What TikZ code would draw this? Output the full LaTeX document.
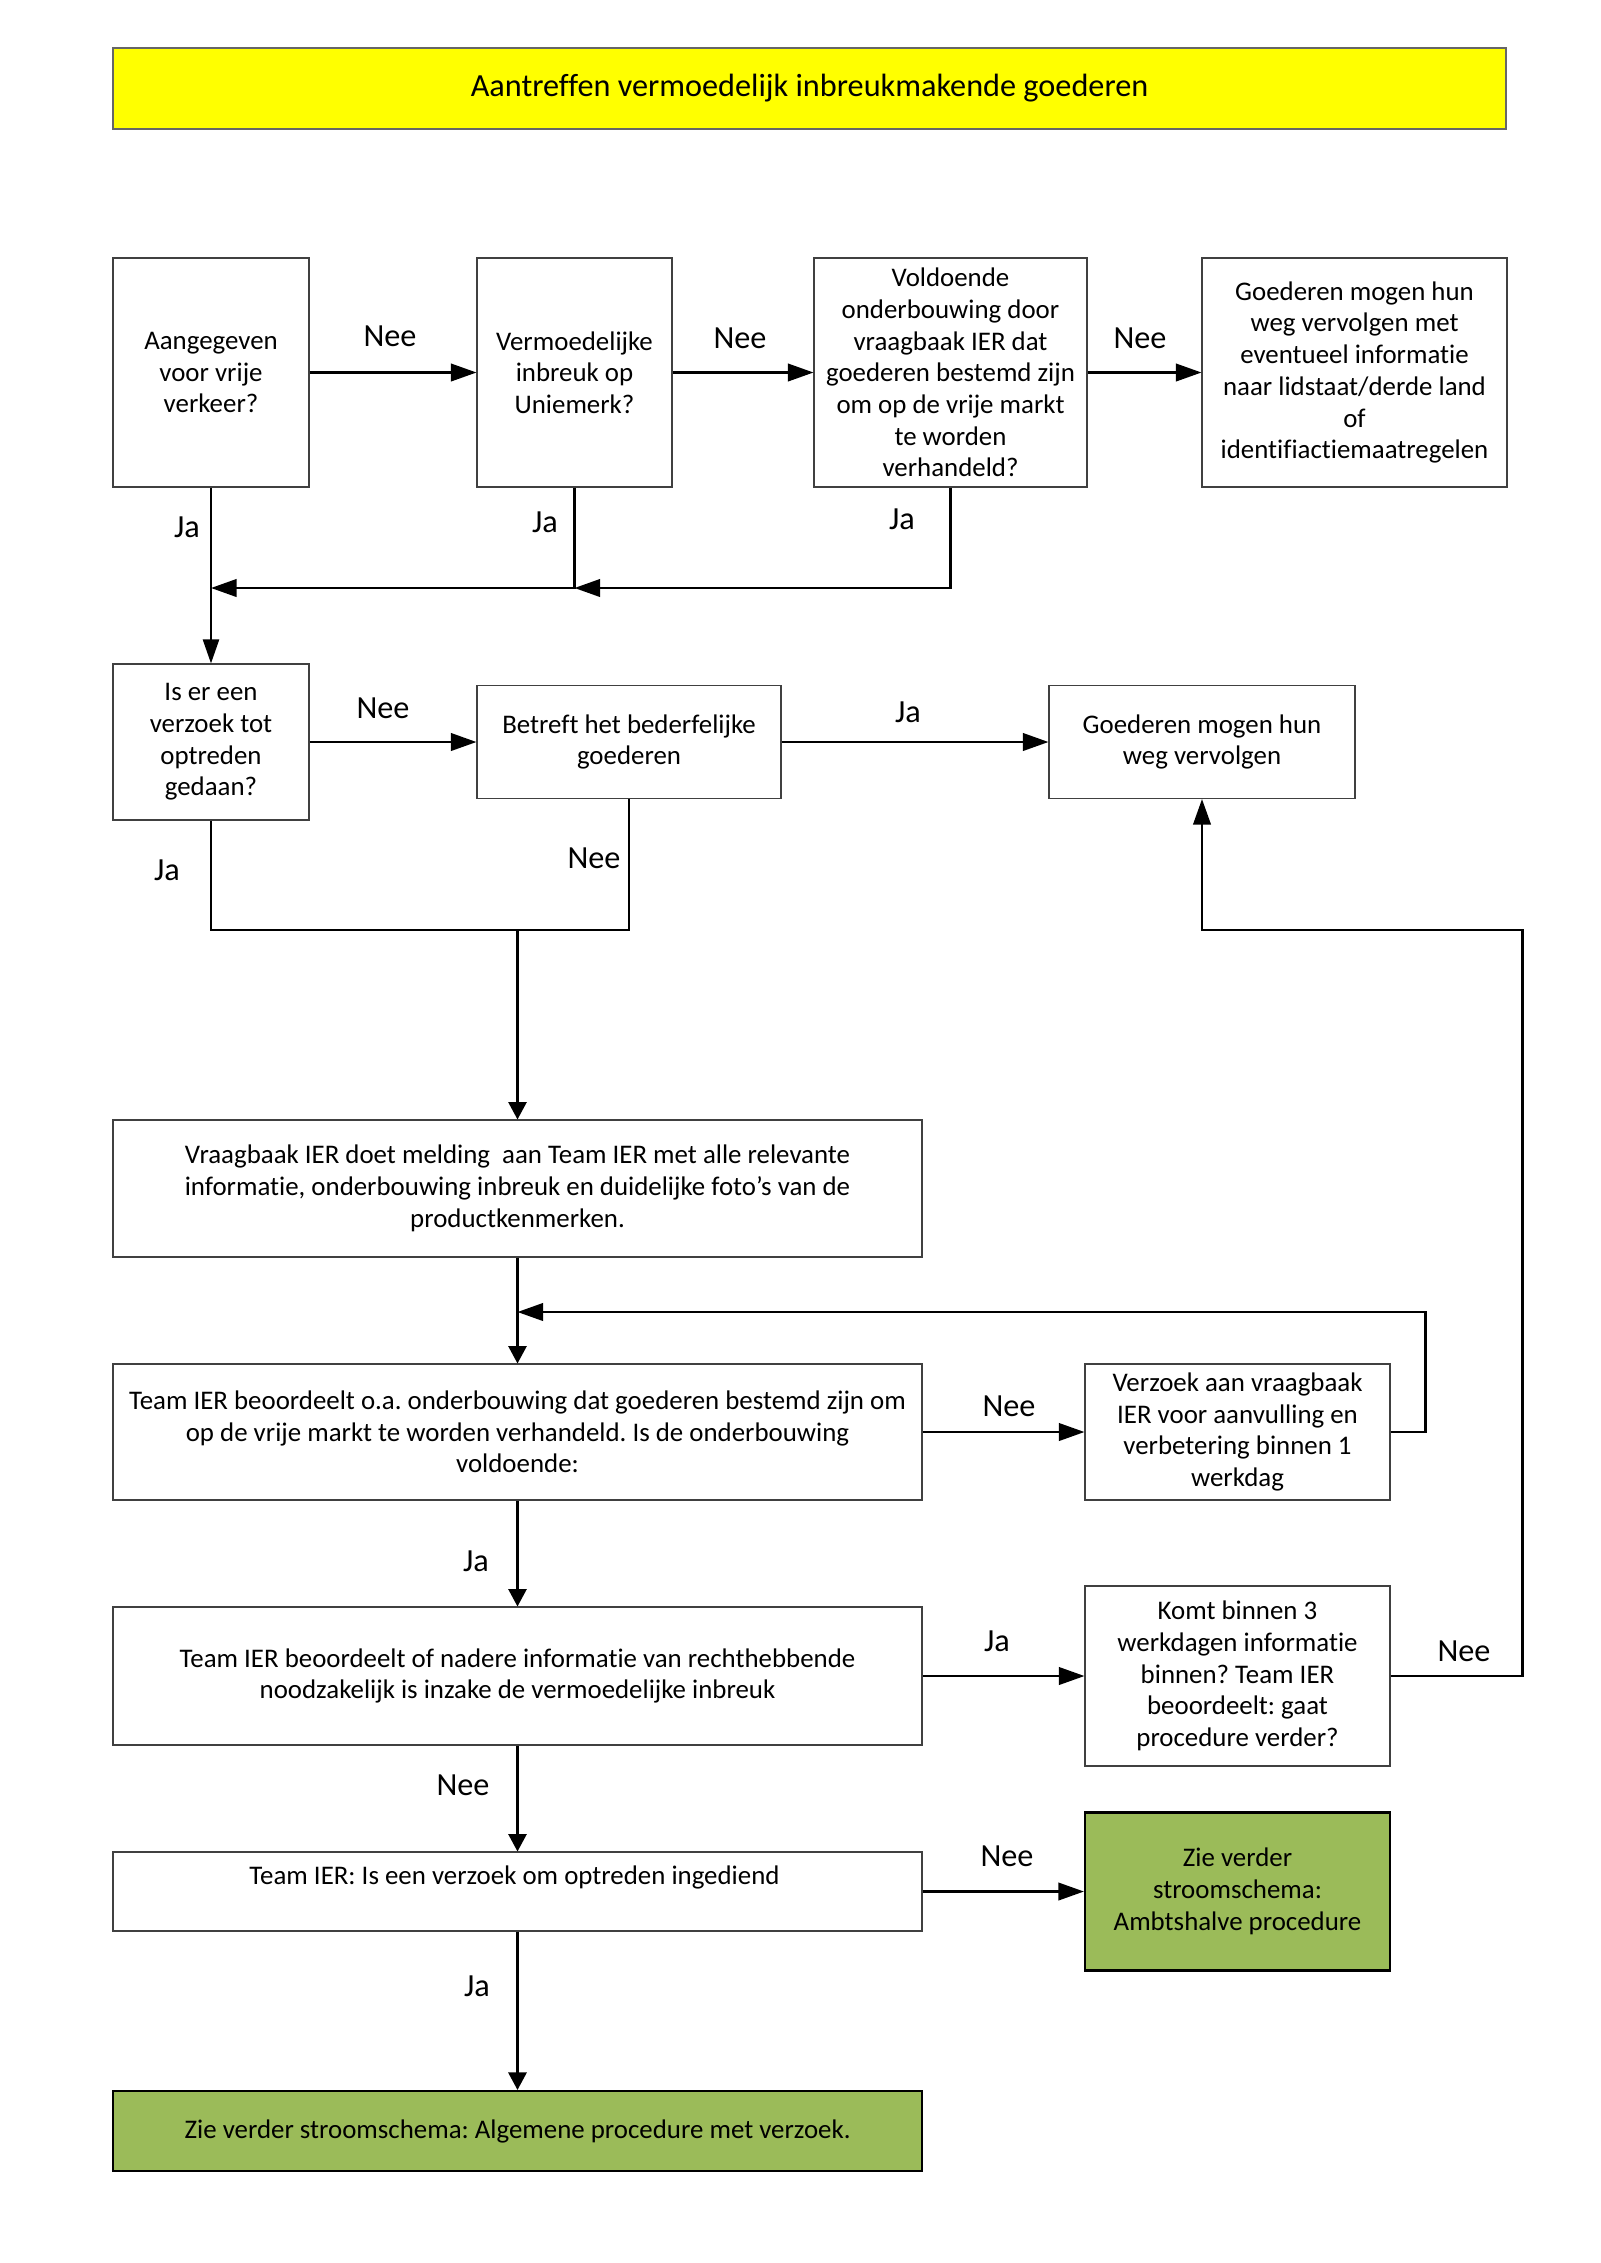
\documentclass[tikz,border=0pt]{standalone}
\usepackage{fontspec}
\setmainfont{Carlito}[RawFeature=-liga]
\usetikzlibrary{arrows.meta}
\frenchspacing

\newlength\px
\setlength\px{0.3721pt}
\newcommand\boxfont{\fontsize{10}{11.8}\selectfont}
\newcommand\lblfont{\fontsize{12}{13.5}\selectfont}
\definecolor{groen}{HTML}{9BBB59}
\definecolor{geel}{HTML}{FFFF00}

\tikzset{
  box/.style={draw=black!75, line width=0.4pt, fill=white, align=center, inner sep=2pt, font=\boxfont},
  eindbox/.style={box, draw=black, line width=0.8pt, fill=groen},
  conn/.style={line width=0.9pt},
  bigarrow/.style={conn, -{Triangle[length=9.5pt,width=6.5pt]}},
  smallarrow/.style={line width=0.75pt, -{Triangle[length=6.5pt,width=6.8pt]}},
  lbl/.style={font=\lblfont, inner sep=0pt},
}

\begin{document}
\begin{tikzpicture}[x=0.3721pt, y=-0.3721pt]
		\useasboundingbox (0,0) rectangle (1600,2263);

			% Title bar
			\node[box, font=\lblfont, draw=black!60, fill=geel, minimum width=1393\px, minimum height=81\px] (titel) at (809.5,88.5) {Aantreffen vermoedelijk inbreukmakende goederen};

			% Plain boxes: name/centre x/centre y/width/height/text
			\foreach \name/\cx/\cy/\w/\h/\txt in {
					aangegeven/211/372.5/196/229/{Aangegeven\\voor vrije\\verkeer?},
					uniemerk/574.5/372.5/195/229/{Vermoedelijke\\inbreuk op\\Uniemerk?},
					voldoende/950.5/372.5/273/229/{Voldoende\\onderbouwing door\\vraagbaak IER dat\\goederen bestemd zijn\\om op de vrije markt\\te worden\\verhandeld?},
					vervolgmet/1354.5/372.5/305/229/{Goederen mogen hun\\weg vervolgen met\\eventueel informatie\\naar lidstaat/derde land\\of\\identifiactiemaatregelen},
					verzoek/211/742/196/156/{Is er een\\verzoek tot\\optreden\\gedaan?},
					bederf/629/742/304/113/{Betreft het bederfelijke\\goederen},
					vervolg/1202/742/306/113/{Goederen mogen hun\\weg vervolgen},
					melding/517.5/1188.5/809/137/{Vraagbaak IER doet melding\ \ aan Team IER met alle relevante\\informatie, onderbouwing inbreuk en duidelijke foto’s van de\\productkenmerken.},
					beoordeelt/517.5/1432/809/136/{Team IER beoordeelt o.a. onderbouwing dat goederen bestemd zijn om\\op de vrije markt te worden verhandeld. Is de onderbouwing\\voldoende:},
					aanvulling/1237.5/1432/305/136/{Verzoek aan vraagbaak\\IER voor aanvulling en\\verbetering binnen 1\\werkdag},
					nadere/517.5/1676/809/138/{Team IER beoordeelt of nadere informatie van rechthebbende\\noodzakelijk is inzake de vermoedelijke inbreuk},
					binnen3/1237.5/1676/305/180/{Komt binnen 3\\werkdagen informatie\\binnen? Team IER\\beoordeelt: gaat\\procedure verder?},
					ingediend/517.5/1891.5/809/79/{\raisebox{5.4pt}[\height][\depth]{Team IER: Is een verzoek om optreden ingediend}}
				} {
					\node[box, minimum width=\w\px, minimum height=\h\px] (\name) at (\cx,\cy) {\txt};
				}

			% End points
			\node[eindbox, minimum width=305\px, minimum height=158\px] (ambtshalve) at (1237.5,1891.5) {Zie verder\\stroomschema:\\Ambtshalve procedure};
			\node[eindbox, minimum width=809\px, minimum height=80\px] (algemeen) at (517.5,2131) {Zie verder stroomschema: Algemene procedure met verzoek.};

			% Junction points
			\coordinate (m1) at (211,588);
			\coordinate (m2) at (uniemerk.south |- m1);
			\coordinate (j1) at (517.5,930);
			\coordinate (j2) at (517.5,1312);
			\coordinate (j3) at (vervolg.south |- j1);

			% Connectors
			\draw[bigarrow] (aangegeven) -- (uniemerk);
			\draw[bigarrow] (uniemerk) -- (voldoende);
			\draw[bigarrow] (voldoende) -- (vervolgmet);
			\draw[conn, -{Triangle[length=9pt,width=6pt]}] (aangegeven) -- (verzoek);
			\draw[bigarrow] (uniemerk.south) |- (m1);
			\draw[bigarrow] (voldoende.south) |- (m2);

			\draw[bigarrow] (verzoek) -- (bederf);
			\draw[bigarrow] (bederf) -- (vervolg);
			\draw[conn] (verzoek.south) |- (bederf.south |- j1) -- (bederf.south);
			\draw[smallarrow] (j1) -- (melding);

			\draw[smallarrow] (melding) -- (beoordeelt);
			\draw[bigarrow] (beoordeelt) -- (aanvulling);
			\draw[bigarrow] (aanvulling.east) -- ++(35,0) |- (j2);
			\draw[smallarrow] (beoordeelt) -- (nadere);
			\draw[bigarrow] (nadere) -- (binnen3);
			\draw[bigarrow] (binnen3.east) -- ++(132,0) |- (j3) -- (vervolg);
			\draw[smallarrow] (nadere) -- (ingediend);
			\draw[bigarrow] (ingediend) -- (ambtshalve);
			\draw[smallarrow] (ingediend) -- (algemeen);

			% Ja / Nee labels
			\foreach \name/\lx/\ly/\t in {
					l1/390/336/Nee, l2/740/338/Nee, l3/1140/338/Nee,
					l4/187/527/Ja, l5/545/522/Ja, l6/902/519/Ja,
					l7/383/708/Nee, l8/908/712/Ja,
					l9/167/870/Ja, l10/594/858/Nee,
					l11/1009/1406/Nee, l12/476/1561/Ja,
					l13/997/1641/Ja, l14/1464/1651/Nee,
					l15/463/1785/Nee, l16/1007/1856/Nee, l17/477/1986/Ja
				} {
					\node[lbl] (\name) at (\lx,\ly) {\t};
				}

		\end{tikzpicture}
\end{document}
